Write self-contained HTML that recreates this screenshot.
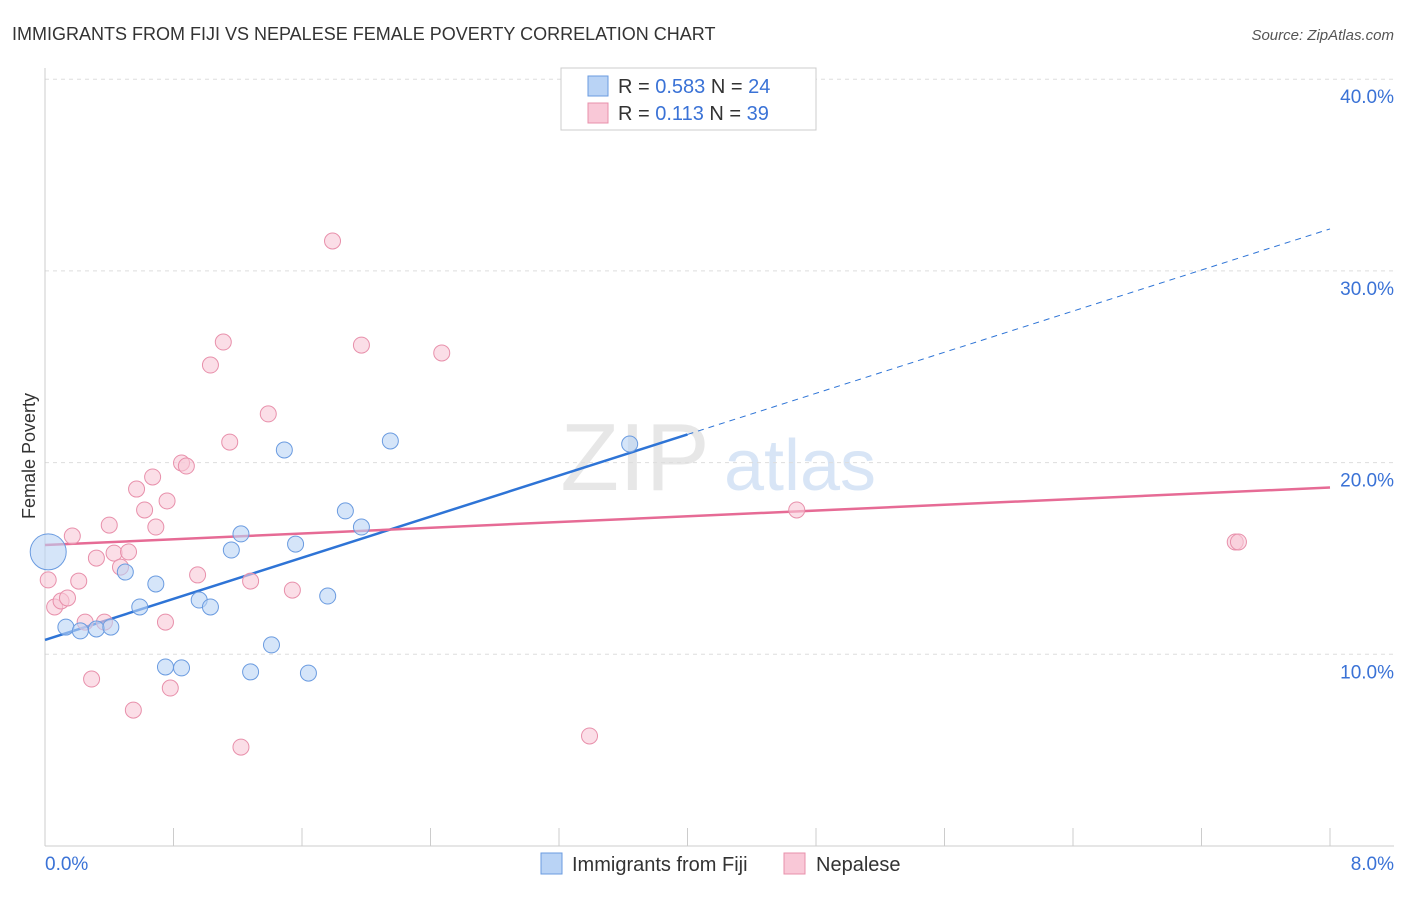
<!DOCTYPE html>
<html><head><meta charset="utf-8"><style>
body{margin:0;background:#fff;font-family:"Liberation Sans",sans-serif;}
svg text{font-family:"Liberation Sans",sans-serif;}
</style></head><body>
<svg id="chart" width="1406" height="892" xmlns="http://www.w3.org/2000/svg">
<text x="12" y="40" font-size="18" fill="#333">IMMIGRANTS FROM FIJI VS NEPALESE FEMALE POVERTY CORRELATION CHART</text>
<text x="1394" y="40" font-size="15" fill="#555" text-anchor="end" font-style="italic">Source: ZipAtlas.com</text>
<text x="35" y="456" font-size="18" fill="#333" text-anchor="middle" transform="rotate(-90 35 456)">Female Poverty</text>
<g><text x="635" y="490" font-size="96" fill="#ddd" text-anchor="middle" font-family="Liberation Serif" opacity="0.7">ZIP</text><text x="800" y="490" font-size="72" fill="#c8dbf3" text-anchor="middle" opacity="0.7">atlas</text></g>
<g id="grid"></g><g id="axes"></g><g id="lines"></g><g id="pts"></g>
<g>
<rect x="561" y="68" width="255" height="62" fill="#fff" stroke="#ccc"/>
<rect x="588" y="76" width="20" height="20" fill="#b9d3f5" stroke="#6a9be0"/>
<text x="618" y="93" font-size="20" fill="#333">R = <tspan fill="#3a72d6">0.583</tspan>   N = <tspan fill="#3a72d6">24</tspan></text>
<rect x="588" y="103" width="20" height="20" fill="#f9c8d7" stroke="#e890ab"/>
<text x="618" y="120" font-size="20" fill="#333">R =  <tspan fill="#3a72d6">0.113</tspan>   N = <tspan fill="#3a72d6">39</tspan></text>
</g>
<g>
<rect x="541" y="853" width="21" height="21" fill="#b9d3f5" stroke="#6a9be0"/>
<text x="572" y="871" font-size="20" fill="#333">Immigrants from Fiji</text>
<rect x="784" y="853" width="21" height="21" fill="#f9c8d7" stroke="#e890ab"/>
<text x="816" y="871" font-size="20" fill="#333">Nepalese</text>
</g>
</svg>
<script>
const yTicks=[10,20,30,40];
const yTickLabels=["10.0%","20.0%","30.0%","40.0%"];
const xTickLabels=["0.0%","8.0%"];
const fijiX=[.02,.13,.22,.32,.41,.50,.59,.69,.75,.85,.96,1.03,1.16,1.22,1.28,1.41,1.49,1.56,1.64,1.76,1.87,1.97,2.15,3.64];
const fijiY=[15.34,11.42,11.22,11.32,11.42,14.29,12.47,13.67,9.34,9.29,12.83,12.47,15.44,16.28,9.08,10.49,20.66,15.75,9.02,13.04,17.48,16.64,21.13,20.97];
const nepX=[.02,.06,.10,.14,.17,.21,.25,.29,.32,.37,.40,.43,.47,.52,.55,.57,.62,.67,.69,.75,.76,.78,.85,.88,.95,1.03,1.11,1.15,1.22,1.28,1.39,1.54,1.79,1.97,2.47,3.39,4.68,7.41,7.43];
const nepY=[13.88,12.47,12.78,12.94,16.17,13.82,11.68,8.71,15.02,11.68,16.74,15.28,14.55,15.34,7.09,18.62,17.53,19.25,16.64,11.68,18.00,8.24,19.98,19.82,14.14,25.09,26.29,21.07,5.16,13.82,22.54,13.35,31.56,26.13,25.72,5.74,17.53,15.86,15.86];
const fijiTrend=[10.75,32.19]; const nepTrend=[15.7,18.7];
const X=v=>45+v*160.625, Y=v=>846-v*19.17;
const NS="http://www.w3.org/2000/svg";
function mk(tag,attrs,parent){const e=document.createElementNS(NS,tag);for(const k in attrs)e.setAttribute(k,attrs[k]);document.getElementById(parent).appendChild(e);return e;}
yTicks.forEach((t,i)=>{
 const g=mk('line',{x1:45,x2:1394,y1:Y(t),y2:Y(t),stroke:'#ddd','stroke-dasharray':'4,4'},'grid');
 
 
 const l=mk('text',{x:1394,y:Y(t)+24,'font-size':19,fill:'#3a72d6','text-anchor':'end'},'axes');l.textContent=yTickLabels[i];
 
 
});
const ax=mk('line',{x1:45,x2:45,y1:68,y2:846,stroke:'#ccc'},'axes');


const bx=mk('line',{x1:45,x2:1394,y1:846,y2:846,stroke:'#ccc'},'axes');


for(let i=1;i<=10;i++){const t=mk('line',{x1:X(i*0.8),x2:X(i*0.8),y1:828,y2:846,stroke:'#ccc'},'axes');
 
 }
[[0,45,'start'],[8,1394,'end']].forEach((d,i)=>{const l=mk('text',{x:d[1],y:870,'font-size':19,fill:'#3a72d6','text-anchor':d[2]},'axes');l.textContent=xTickLabels[i];
 
 });
const fy=x=>fijiTrend[0]+(fijiTrend[1]-fijiTrend[0])*x/8;
const ny=x=>nepTrend[0]+(nepTrend[1]-nepTrend[0])*x/8;
let l1=mk('line',{x1:X(0),y1:Y(fy(0)),x2:X(4),y2:Y(fy(4)),stroke:'#2e74d6','stroke-width':2.5},'lines');


let l2=mk('line',{x1:X(4),y1:Y(fy(4)),x2:X(8),y2:Y(fy(8)),stroke:'#2e74d6','stroke-width':1,'stroke-dasharray':'6,5'},'lines');


let l3=mk('line',{x1:X(0),y1:Y(ny(0)),x2:X(8),y2:Y(ny(8)),stroke:'#e66b95','stroke-width':2.5},'lines');


nepX.forEach((x,i)=>{const c=mk('circle',{cx:X(x),cy:Y(nepY[i]),r:8,fill:'#f9c8d7','fill-opacity':0.6,stroke:'#e890ab','stroke-width':1},'pts');
 
 });
fijiX.forEach((x,i)=>{const c=mk('circle',{cx:X(x),cy:Y(fijiY[i]),r:i===0?18:8,fill:'#b9d3f5','fill-opacity':0.6,stroke:'#6a9be0','stroke-width':1},'pts');
 
 });
</script>
</body></html>
